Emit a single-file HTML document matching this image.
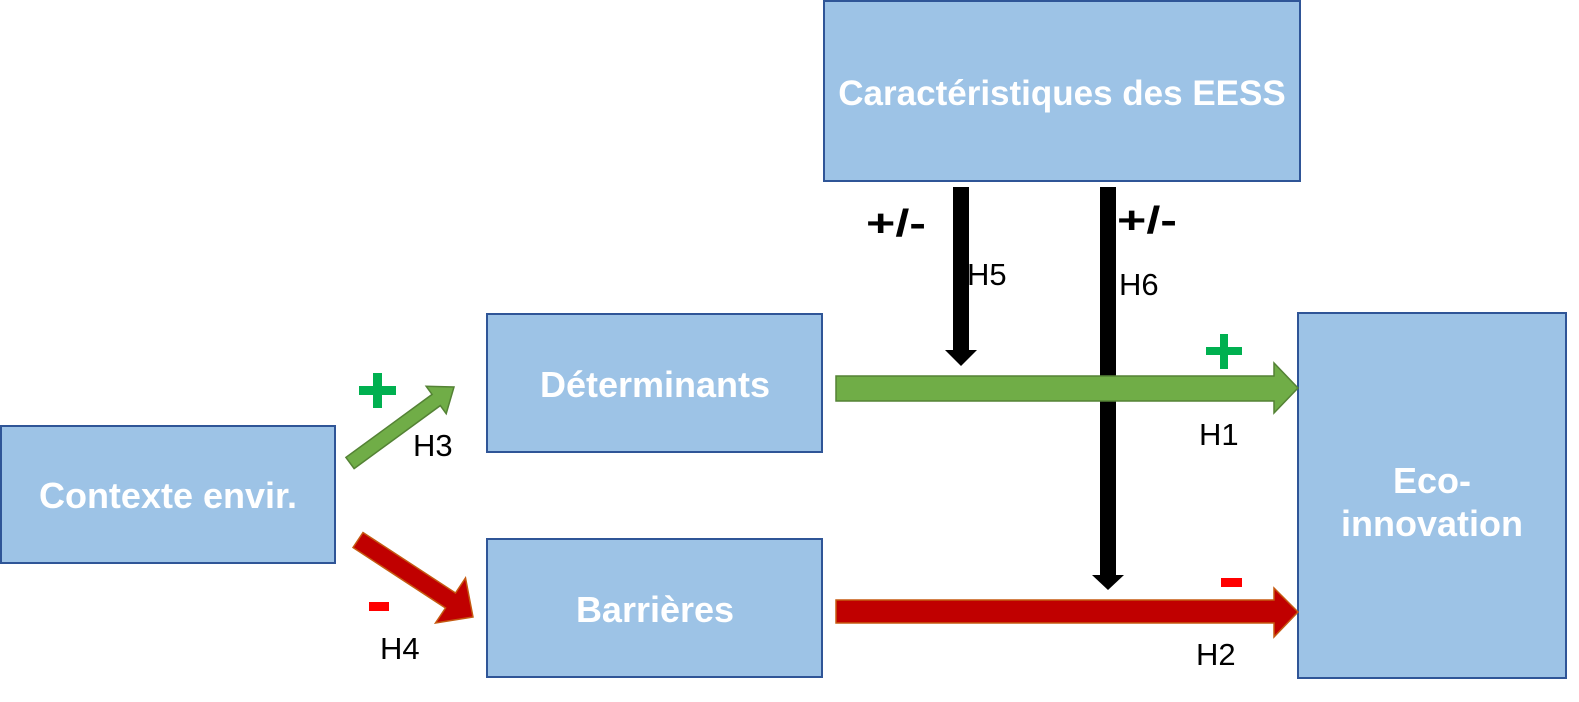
<!DOCTYPE html>
<html><head><meta charset="utf-8"><style>
html,body{margin:0;padding:0;background:#fff;}
svg{display:block;}
text{font-family:"Liberation Sans",sans-serif;}
.b{fill:#fff;font-weight:bold;font-size:36px;text-anchor:middle;}
.h{fill:#000;font-size:31px;}
</style></head><body>
<svg width="1579" height="702" viewBox="0 0 1579 702" xmlns="http://www.w3.org/2000/svg">
<g fill="#9dc3e6" stroke="#2f5597" stroke-width="2">
<rect x="1" y="426" width="334" height="137"/>
<rect x="487" y="314" width="335" height="138"/>
<rect x="487" y="539" width="335" height="138"/>
<rect x="824" y="1" width="476" height="180"/>
<rect x="1298" y="313" width="268" height="365"/>
</g>
<text class="b" x="168" y="508">Contexte envir.</text>
<text class="b" x="655" y="397">Déterminants</text>
<text class="b" x="655" y="622">Barrières</text>
<text class="b" x="1062" y="105" style="font-size:35px">Caractéristiques des EESS</text>
<text class="b" x="1432" y="493">Eco-</text>
<text class="b" x="1432" y="536">innovation</text>
<!-- black arrows -->
<polygon points="953,187 969,187 969,350 977,350 961,366 945,350 953,350" fill="#000"/>
<polygon points="1100,187 1116,187 1116,575 1124,575 1108,590 1092,575 1100,575" fill="#000"/>
<!-- green H1 -->
<polygon points="836,376 1274,376 1274,363 1298,388 1274,413 1274,401 836,401" fill="#70ad47" stroke="#548235" stroke-width="1.5"/>
<!-- red H2 -->
<polygon points="836,600 1274,600 1274,588 1298,612 1274,637 1274,623 836,623" fill="#c00000" stroke="#c55a11" stroke-width="1.5"/>
<!-- green diag H3 -->
<polygon points="354.1,468.6 440.3,405.6 446.2,413.7 454,387 426.2,386.3 432.1,394.4 345.9,457.4" fill="#70ad47" stroke="#548235" stroke-width="1.5"/>
<!-- red diag H4 -->
<polygon points="353,547.5 445.5,608 435.5,623 473,617 465.5,578 455.5,593 363,532.5" fill="#c00000" stroke="#c55a11" stroke-width="1.5"/>
<!-- signs -->
<rect x="359" y="386" width="37" height="9" fill="#00b050"/>
<rect x="373" y="373" width="9" height="35" fill="#00b050"/>
<rect x="1206" y="347" width="36" height="8" fill="#00b050"/>
<rect x="1220" y="334" width="8" height="35" fill="#00b050"/>
<rect x="369" y="602" width="20" height="9" fill="#ff0000"/>
<rect x="1221" y="578" width="21" height="9" fill="#ff0000"/>
<text x="866" y="236" fill="#000" font-weight="bold" font-size="38" textLength="60" lengthAdjust="spacingAndGlyphs">+/-</text>
<text x="1117" y="233" fill="#000" font-weight="bold" font-size="38" textLength="60" lengthAdjust="spacingAndGlyphs">+/-</text>
<text class="h" x="413" y="456">H3</text>
<text class="h" x="380" y="659">H4</text>
<text class="h" x="967" y="285">H5</text>
<text class="h" x="1119" y="295">H6</text>
<text class="h" x="1199" y="445">H1</text>
<text class="h" x="1196" y="665">H2</text>
</svg>
</body></html>
